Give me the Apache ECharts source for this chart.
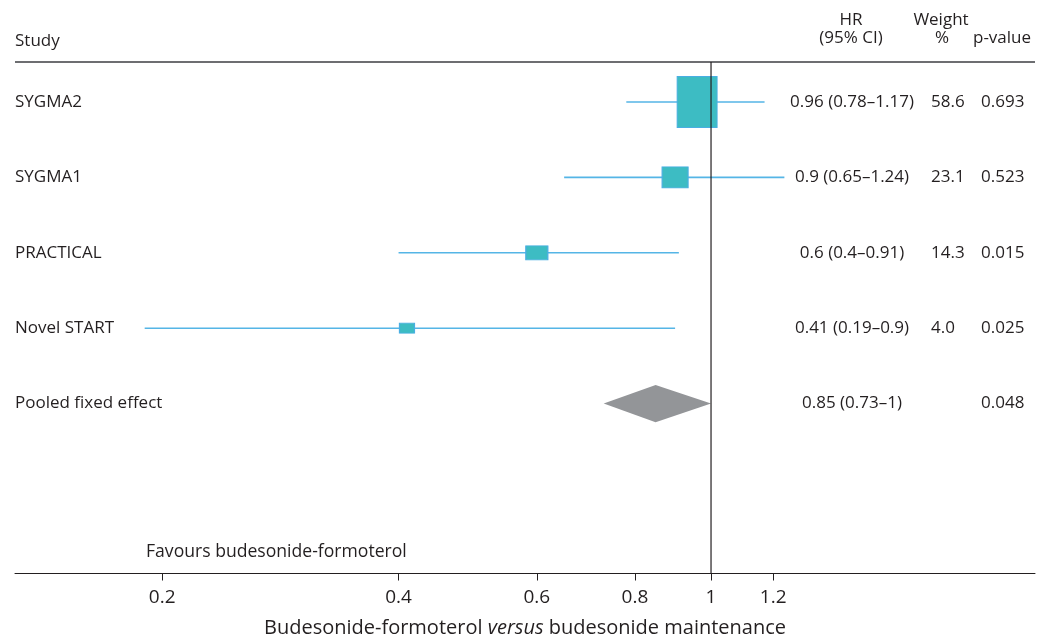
<!DOCTYPE html>
<html><head><meta charset="utf-8">
<script src="https://cdn.jsdelivr.net/npm/echarts@6/dist/echarts.min.js"></script>
<style>html,body{margin:0;padding:0;background:#fff}#c{width:1051px;height:639px}</style>
</head><body><div id="c"></div>
<script>
// ---- data ----
const studies = ['SYGMA2', 'SYGMA1', 'PRACTICAL', 'Novel START', 'Pooled fixed effect'];
const hr = [0.96, 0.9, 0.6, 0.41, 0.85];
const ciLow = [0.78, 0.65, 0.4, 0.19, 0.73];
const ciHigh = [1.17, 1.24, 0.91, 0.9, 1];
const weight = ['58.6', '23.1', '14.3', '4.0', ''];
const pValue = ['0.693', '0.523', '0.015', '0.025', '0.048'];
const tickValues = [0.2, 0.4, 0.6, 0.8, 1, 1.2];

// ---- style / layout ----
const boxSize = [[40, 51], [26, 21], [22, 14], [15, 10]];
const FONT = '"Open Sans", "DejaVu Sans", sans-serif';
const INK = '#231f20';
const GRID_TOP = 10, PITCH = 75.4, Y_MIN = -0.2202;
const GRID_H = 563.5;
const Y_MAX = Y_MIN + GRID_H / PITCH;
const py = px => Y_MIN + (px - GRID_TOP) / PITCH;
const X_MIN = -2.041, X_MAX = 0.950;
const ln = Math.log;

const pooled = studies.length - 1;
const hrLabels = hr.map((v, i) => `${v} (${ciLow[i]}–${ciHigh[i]})`);

const textItems = [];
studies.forEach((s, i) => {
  textItems.push({ x: 0, y: i + 1, text: s, align: 'left' });
  textItems.push({ x: 837, y: i + 1, text: hrLabels[i], align: 'center' });
  if (weight[i]) textItems.push({ x: 916, y: i + 1, text: weight[i], align: 'left' });
  textItems.push({ x: 966, y: i + 1, text: pValue[i], align: 'left' });
});

const chart = echarts.init(document.getElementById('c'), null, { renderer: 'canvas' });

const hdr = (text, x, y, align, size) => ({
  type: 'text', x, y,
  style: { text, align, verticalAlign: 'middle', fontSize: size || 17, fontFamily: FONT, fill: INK }
});

chart.setOption({
  animation: false,
  backgroundColor: '#fff',
  grid: { left: 15, right: 16, top: GRID_TOP, bottom: 639 - GRID_TOP - GRID_H, outerBoundsMode: 'none', containLabel: false },
  xAxis: [{
    type: 'value', min: X_MIN, max: X_MAX, position: 'bottom',
    axisLine: { show: true, onZero: false, lineStyle: { color: INK, width: 1 } },
    axisTick: { show: true, customValues: tickValues.map(ln), length: 7, lineStyle: { color: INK } },
    axisLabel: {
      customValues: tickValues.map(ln),
      formatter: v => String(Math.round(Math.exp(v) * 10) / 10),
      fontSize: 19, fontFamily: FONT, color: INK, margin: 15
    },
    splitLine: { show: false },
    name: '{a|Budesonide-formoterol }{b|versus}{a| budesonide maintenance}',
    nameLocation: 'middle', nameGap: 45,
    nameTextStyle: {
      rich: {
        a: { fontSize: 20, fontFamily: FONT, color: INK },
        b: { fontSize: 20, fontFamily: FONT, color: INK, fontStyle: 'italic' }
      }
    }
  }, {
    type: 'value', min: 0, max: 1020, show: false
  }],
  yAxis: { type: 'value', inverse: true, min: Y_MIN, max: Y_MAX, show: false },
  graphic: [
    { type: 'line', shape: { x1: 15, y1: 62, x2: 1035, y2: 62 }, style: { stroke: '#6d6e71', lineWidth: 2 } },
    hdr('Study', 15, 41, 'left'),
    hdr('HR', 851, 20, 'center'),
    hdr('(95% CI)', 851, 38, 'center'),
    hdr('Weight', 941, 20, 'center'),
    hdr('%', 942, 38, 'center'),
    hdr('p-value', 973, 38, 'left'),
    hdr('Favours budesonide-formoterol', 146, 552, 'left', 17.6)
  ],
  series: [
    {
      type: 'custom', name: 'ci', clip: false,
      data: hr.slice(0, pooled).map((v, i) => [ln(ciLow[i]), ln(ciHigh[i]), i + 1]),
      renderItem: (params, api) => {
        const a = api.coord([api.value(0), api.value(2)]);
        const b = api.coord([api.value(1), api.value(2)]);
        return { type: 'line', shape: { x1: a[0], y1: a[1], x2: b[0], y2: b[1] },
          style: { stroke: '#55b5e6', lineWidth: 1.6 } };
      }
    },
    {
      type: 'line', name: 'ref', symbol: 'none', silent: true,
      data: [[0, py(62)], [0, Y_MAX]],
      lineStyle: { color: INK, width: 1.2 }
    },
    {
      type: 'scatter', name: 'hr', symbol: 'rect',
      data: hr.slice(0, pooled).map((v, i) => ({ value: [ln(v), i + 1], symbolSize: boxSize[i] })),
      itemStyle: { color: '#3dbcc3', borderColor: '#4aaee3', borderWidth: 1, opacity: 1 }
    },
    {
      type: 'custom', name: 'pooled', clip: false,
      data: [[ln(ciLow[pooled]), ln(hr[pooled]), ln(ciHigh[pooled]), pooled + 1]],
      renderItem: (params, api) => {
        const y = api.value(3);
        const l = api.coord([api.value(0), y]);
        const c = api.coord([api.value(1), y]);
        const r = api.coord([api.value(2), y]);
        const h = 18.6;
        return { type: 'polygon', shape: { points: [[l[0], l[1]], [c[0], c[1] - h], [r[0], r[1]], [c[0], c[1] + h]] },
          style: { fill: '#939598' } };
      }
    },
    {
      type: 'custom', name: 'text', xAxisIndex: 1, yAxisIndex: 0, clip: false,
      data: textItems.map(d => [d.x, d.y]),
      renderItem: (params, api) => {
        const d = textItems[params.dataIndex];
        const p = api.coord([api.value(0), api.value(1)]);
        return { type: 'text', x: p[0], y: p[1],
          style: { text: d.text, align: d.align, verticalAlign: 'middle', fontSize: 17, fontFamily: FONT, fill: INK } };
      }
    }
  ]
});
</script>
</body></html>
